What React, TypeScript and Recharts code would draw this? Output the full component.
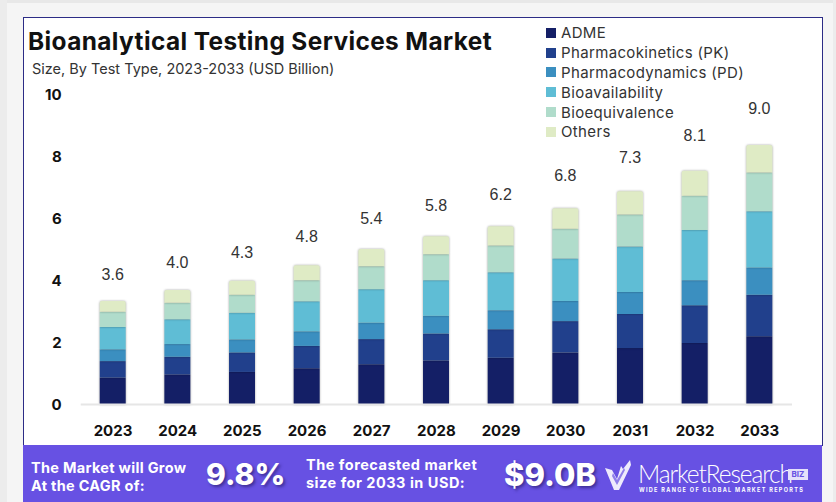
import { BarChart, Bar, XAxis, YAxis, Legend, LabelList } from 'recharts';

const YEARS = ['2023', '2024', '2025', '2026', '2027', '2028', '2029', '2030', '2031', '2032', '2033'];
const ADME = [0.87, 0.97, 1.05, 1.17, 1.3, 1.42, 1.51, 1.68, 1.82, 1.98, 2.2];
const PK = [0.53, 0.57, 0.63, 0.72, 0.81, 0.87, 0.92, 1.01, 1.1, 1.22, 1.34];
const PD = [0.38, 0.41, 0.42, 0.47, 0.53, 0.57, 0.61, 0.65, 0.71, 0.81, 0.88];
const BIOAVAILABILITY = [0.72, 0.8, 0.86, 0.97, 1.08, 1.15, 1.23, 1.37, 1.47, 1.62, 1.81];
const BIOEQUIVALENCE = [0.49, 0.53, 0.58, 0.68, 0.74, 0.84, 0.86, 0.96, 1.03, 1.1, 1.25];
const OTHERS = [0.35, 0.41, 0.45, 0.48, 0.56, 0.58, 0.62, 0.66, 0.75, 0.81, 0.89];
const TOTALS = [3.6, 4.0, 4.3, 4.8, 5.4, 5.8, 6.2, 6.8, 7.3, 8.1, 9.0];
const Y_TICKS = [0, 2, 4, 6, 8, 10];

const SERIES = [
  { name: 'ADME', values: ADME, color: '#141f66' },
  { name: 'Pharmacokinetics (PK)', values: PK, color: '#21408c' },
  { name: 'Pharmacodynamics (PD)', values: PD, color: '#3b8fc0' },
  { name: 'Bioavailability', values: BIOAVAILABILITY, color: '#5fbdd5' },
  { name: 'Bioequivalence', values: BIOEQUIVALENCE, color: '#b0dccb' },
  { name: 'Others', values: OTHERS, color: '#dfebc5' },
];

const chartData = YEARS.map((year, i) => {
  const row: Record<string, string | number> = { year, total: TOTALS[i] };
  SERIES.forEach((s) => {
    row[s.name] = s.values[i];
  });
  return row;
});

const SANS = 'Inter, sans-serif';

// the totals sit higher above the taller bars in the original
function TotalLabel({ x, y, width, value }: any) {
  const gap = 20.3 + 1.85 * Number(value);
  return (
    <text
      x={x + width / 2}
      y={y - gap}
      textAnchor="middle"
      dominantBaseline="central"
      fontFamily="Liberation Sans"
      fontSize={16}
      fill="#333"
    >
      {Number(value).toFixed(1)}
    </text>
  );
}

function LegendList({ payload }: any) {
  return (
    <div>
      {(payload || []).map((p: any) => (
        <div key={p.value} style={{ display: 'flex', alignItems: 'center', height: 19.8 }}>
          <span style={{ width: 10, height: 10, background: p.color, marginRight: 5, flex: 'none' }} />
          <span style={{ fontFamily: SANS, fontSize: 15, letterSpacing: 0.35, color: '#333', whiteSpace: 'nowrap' }}>
            {p.value}
          </span>
        </div>
      ))}
    </div>
  );
}

function Text({ x, y, size, weight = 700, spacing = 0, shadow = false, font = SANS, children }: any) {
  return (
    <div
      style={{
        position: 'absolute',
        left: x,
        top: y,
        transform: 'translateY(-50%)',
        fontFamily: font,
        fontSize: size,
        fontWeight: weight,
        letterSpacing: spacing,
        lineHeight: 1,
        color: '#fff',
        whiteSpace: 'nowrap',
        textShadow: shadow ? '2px 2px 3px rgba(30,20,90,0.55)' : undefined,
      }}
    >
      {children}
    </div>
  );
}

export default function App() {
  return (
    <div style={{ position: 'absolute', left: 0, top: 0, width: 836, height: 502, overflow: 'hidden', background: '#f5f5f5' }}>
      <style>{`.recharts-bar-rectangles { filter: drop-shadow(0 0 1px rgba(0,0,0,0.35)); }`}</style>
      <div style={{ position: 'absolute', left: 0, top: 0, width: 836, height: 3, background: '#e8e8e8' }} />
      <div style={{ position: 'absolute', left: 0, top: 0, width: 7, height: 502, background: '#ececec' }} />
      <div style={{ position: 'absolute', left: 833, top: 0, width: 3, height: 502, background: '#ececec' }} />
      <div
        style={{
          position: 'absolute',
          left: 23,
          top: 17,
          width: 798,
          height: 428,
          background: '#fff',
          borderLeft: '1px solid #2c2c86',
          borderTop: '1px solid #2c2c86',
          borderRight: '1px solid #2c2c86',
        }}
      />

      <div style={{ position: 'absolute', left: 0, top: 0 }}>
        <BarChart
          width={836}
          height={502}
          data={chartData}
          margin={{ top: 94.5, right: 44, bottom: 0, left: 20 }}
          barSize={26}
        >
          <XAxis
            dataKey="year"
            height={97.5}
            axisLine={{ stroke: '#e6e6e6', strokeWidth: 2 }}
            tickLine={false}
            tickMargin={15}
            interval={0}
            tick={{ fontFamily: SANS, fontSize: 15, fontWeight: 700, fill: '#111' }}
          />
          <YAxis
            width={60.7}
            domain={[0, 10]}
            ticks={Y_TICKS}
            axisLine={false}
            tickLine={false}
            tickMargin={13}
            tick={{ fontFamily: SANS, fontSize: 15, fontWeight: 700, fill: '#111' }}
          />
          <Legend
            layout="vertical"
            verticalAlign="middle"
            align="center"
            itemSorter={null}
            content={<LegendList />}
            wrapperStyle={{ left: 546, top: 23, width: 240 }}
          />
          {SERIES.map((s, i) => (
            <Bar
              key={s.name}
              dataKey={s.name}
              stackId="a"
              fill={s.color}
              radius={i === SERIES.length - 1 ? [2, 2, 0, 0] : 0}
              isAnimationActive={false}
            >
              {i === SERIES.length - 1 && <LabelList dataKey="total" content={<TotalLabel />} />}
            </Bar>
          ))}
        </BarChart>
      </div>

      <div
        style={{
          position: 'absolute',
          left: 28,
          top: 41,
          transform: 'translateY(-50%)',
          fontFamily: SANS,
          fontSize: 24.4,
          fontWeight: 700,
          letterSpacing: 0.4,
          color: '#111',
          whiteSpace: 'nowrap',
        }}
      >
        Bioanalytical Testing Services Market
      </div>
      <div
        style={{
          position: 'absolute',
          left: 32,
          top: 68,
          transform: 'translateY(-50%)',
          fontFamily: SANS,
          fontSize: 14.5,
          color: '#333',
          whiteSpace: 'nowrap',
        }}
      >
        Size, By Test Type, 2023-2033 (USD Billion)
      </div>

      <div style={{ position: 'absolute', left: 23, top: 445, width: 799, height: 57, background: '#6751e3' }} />
      <Text x={31} y={468} size={14.5} spacing={0.3}>The Market will Grow</Text>
      <Text x={31} y={486} size={14.5} spacing={0.3}>At the CAGR of:</Text>
      <Text x={206} y={474} size={30} weight={800} shadow>9.8%</Text>
      <Text x={306} y={465} size={14.5} spacing={0.5}>The forecasted market</Text>
      <Text x={306} y={483} size={14.5} spacing={0.5}>size for 2033 in USD:</Text>
      <Text x={504} y={474} size={31} weight={800} shadow>$9.0B</Text>
      <svg style={{ position: 'absolute', left: 604, top: 458 }} width={28} height={34} viewBox="0 0 28 34">
        <path d="M1 10 L8 12 L13 21 L17 8 L19 11 L26 2 L27 7 L15 32 L10 32 Z" fill="#eeebfc" />
        <path d="M8 18 L13 27 L21 12 L20 10 L13 22 L9 15 Z" fill="#8f7eea" />
      </svg>
      <Text x={638} y={473.5} size={24.5} weight={300} spacing={-1.1} font="Lato, sans-serif">MarketResearch</Text>
      <div
        style={{
          position: 'absolute',
          left: 788,
          top: 469,
          width: 20,
          height: 11,
          background: '#e4e0fb',
          color: '#6751e3',
          fontFamily: SANS,
          fontSize: 8,
          fontWeight: 700,
          lineHeight: '11px',
          textAlign: 'center',
        }}
      >
        BIZ
      </div>
      <Text x={639} y={490.5} size={5.5} spacing={1.3}>WIDE RANGE OF GLOBAL MARKET REPORTS</Text>
    </div>
  );
}
